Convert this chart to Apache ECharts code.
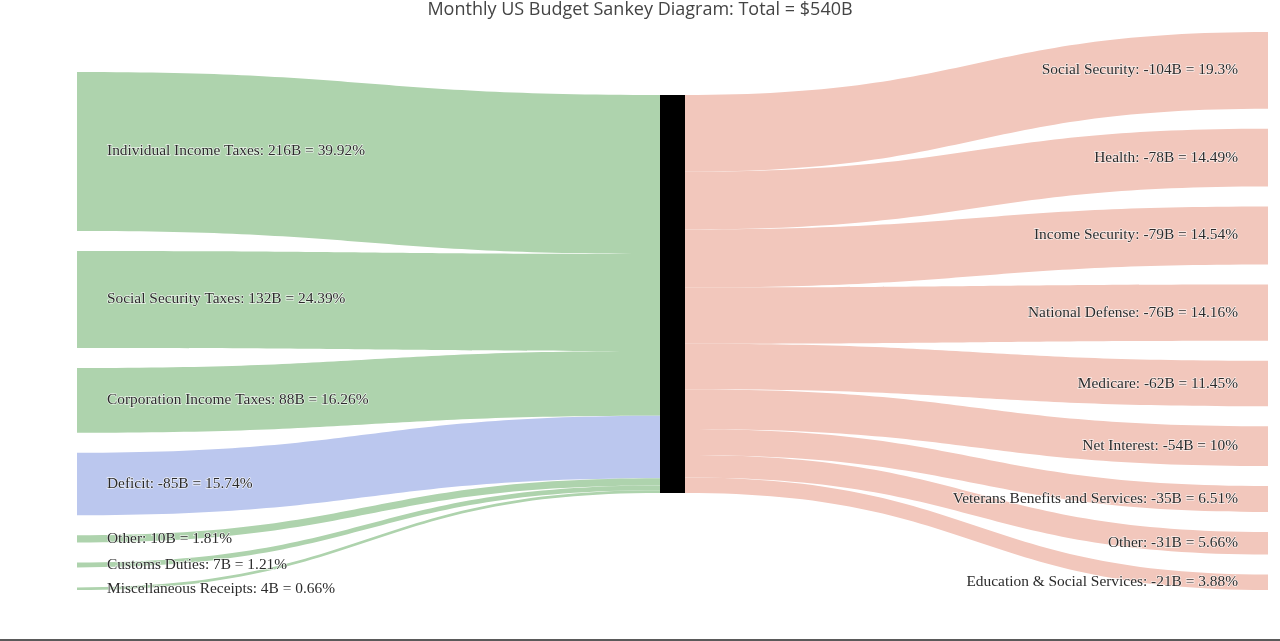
<!DOCTYPE html>
<html><head><meta charset="utf-8">
<script src="https://cdn.jsdelivr.net/npm/echarts@6/dist/echarts.min.js"></script>
<style>html,body{margin:0;padding:0;background:#fff}#chart{width:1280px;height:641px}</style>
</head><body><div id="chart"></div>
<script>
const chartTitle = 'Monthly US Budget Sankey Diagram: Total = $540B';
const centerName = 'Budget';
const deficitName = 'Deficit';
const receiptNames = ['Individual Income Taxes', 'Social Security Taxes', 'Corporation Income Taxes', 'Deficit', 'Other', 'Customs Duties', 'Miscellaneous Receipts'];
const receiptValues = [215.57, 131.71, 87.80, 85.00, 9.77, 6.53, 3.56];
const receiptPercents = ['39.92', '24.39', '16.26', '15.74', '1.81', '1.21', '0.66'];
const outlayNames = ['Social Security', 'Health', 'Income Security', 'National Defense', 'Medicare', 'Net Interest', 'Veterans Benefits and Services', 'Other', 'Education & Social Services'];
const outlayValues = [104.22, 78.25, 78.52, 76.46, 61.83, 54.00, 35.15, 30.56, 20.95];
const outlayPercents = ['19.3', '14.49', '14.54', '14.16', '11.45', '10', '6.51', '5.66', '3.88'];

const GREEN = '#aed3ad', BLUE = '#bbc7ee', PINK = '#f2c7bc';
const labelFont = { fontFamily: '"Liberation Serif", "DejaVu Serif", serif', fontSize: 15.4, color: '#2b2b2b',
  textBorderColor: 'rgba(255,255,255,0.75)', textBorderWidth: 1.3 };

const nodes = [];
const links = [];
receiptNames.forEach((n, i) => {
  const neg = n === deficitName ? '-' : '';
  const txt = `${n}: ${neg}${Math.round(receiptValues[i])}B = ${receiptPercents[i]}%`;
  nodes.push({ id: 'in' + i, name: n, itemStyle: { color: 'rgba(0,0,0,0)', borderWidth: 0 },
    label: Object.assign({ show: true, position: 'right', distance: 30, formatter: txt }, labelFont) });
  links.push({ source: 'in' + i, target: 'mid', value: receiptValues[i],
    lineStyle: { color: n === deficitName ? BLUE : GREEN, opacity: 1 } });
});
nodes.push({ id: 'mid', name: centerName, itemStyle: { color: '#000', borderWidth: 0 }, label: { show: false } });
outlayNames.forEach((n, i) => {
  const txt = `${n}: -${Math.round(outlayValues[i])}B = ${outlayPercents[i]}%`;
  nodes.push({ id: 'out' + i, name: n, itemStyle: { color: 'rgba(0,0,0,0)', borderWidth: 0 },
    label: Object.assign({ show: true, position: 'left', distance: 30, formatter: txt }, labelFont) });
  links.push({ source: 'mid', target: 'out' + i, value: outlayValues[i],
    lineStyle: { color: PINK, opacity: 1 } });
});

const chart = echarts.init(document.getElementById('chart'), null, { renderer: 'canvas' });
chart.setOption({
  backgroundColor: '#fff',
  animation: false,
  title: { text: chartTitle, left: 'center', top: 0, padding: [1, 0, 0, 0],
    textStyle: { fontFamily: '"Open Sans", sans-serif', fontSize: 18, fontWeight: 'normal', color: '#444' } },
  graphic: [{ type: 'rect', left: 0, bottom: 0, shape: { width: 1280, height: 2 }, style: { fill: '#5a5a5a' } }],
  series: [{
    type: 'sankey',
    left: 52, top: 32, width: 1241, height: 558,
    nodeWidth: 25, nodeGap: 20,
    draggable: false,
    emphasis: { disabled: true },
    lineStyle: { curveness: 0.5, opacity: 1 },
    data: nodes,
    links: links
  }]
});
</script></body></html>
